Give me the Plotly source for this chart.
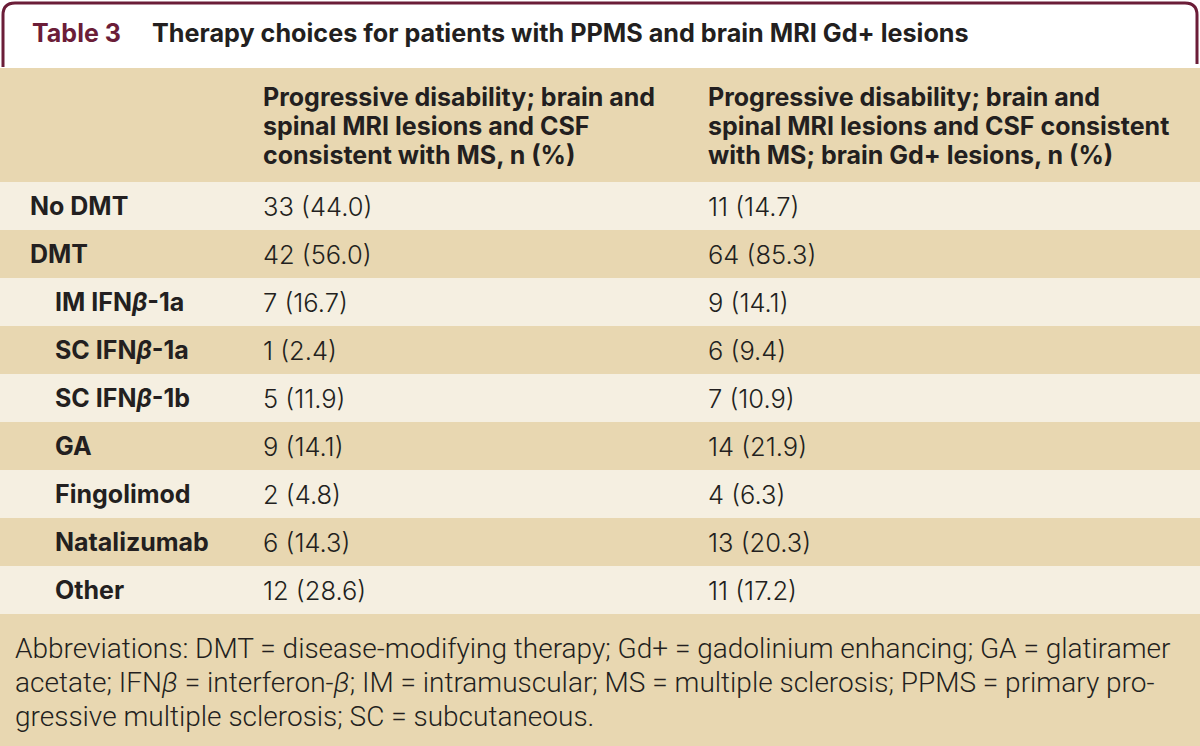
import plotly.graph_objects as go

# ---- data ----
table_no = "Table 3"
title = "Therapy choices for patients with PPMS and brain MRI Gd+ lesions"
header1 = ["Progressive disability; brain and",
           "spinal MRI lesions and CSF",
           "consistent with MS, n (%)"]
header2 = ["Progressive disability; brain and",
           "spinal MRI lesions and CSF consistent",
           "with MS; brain Gd+ lesions, n (%)"]
labels = ["No DMT", "DMT", "IM IFN<i>β</i>-1a", "SC IFN<i>β</i>-1a", "SC IFN<i>β</i>-1b",
          "GA", "Fingolimod", "Natalizumab", "Other"]
indent = [0, 0, 1, 1, 1, 1, 1, 1, 1]
col1 = ["33 (44.0)", "42 (56.0)", "7 (16.7)", "1 (2.4)", "5 (11.9)",
        "9 (14.1)", "2 (4.8)", "6 (14.3)", "12 (28.6)"]
col2 = ["11 (14.7)", "64 (85.3)", "9 (14.1)", "6 (9.4)", "7 (10.9)",
        "14 (21.9)", "4 (6.3)", "13 (20.3)", "11 (17.2)"]
footnote = ["Abbreviations: DMT = disease-modifying therapy; Gd+ = gadolinium enhancing; GA = glatiramer",
            "acetate; IFN<i>β</i> = interferon-<i>β</i>; IM = intramuscular; MS = multiple sclerosis; PPMS = primary pro-",
            "gressive multiple sclerosis; SC = subcutaneous."]

# ---- styles ----
W, H = 1200, 746
TAN = "#e8d7b1"
LIGHT = "#f5efe1"
MAROON = "#6b1d38"
TXT = "#231f20"
BOLD = dict(family="Inter", size=25, color=TXT, weight="bold")
REG = dict(family="Inter", size=25.5, color=TXT, weight=300)
FOOT = dict(family="Roboto", size=28, color=TXT, weight=300)

head_top, head_bot = 68, 182
row_h = 48
x_lab, x_ind, x_c1, x_c2 = 28, 53, 261, 706

shapes = []
ann = []

# title frame
shapes.append(dict(type="rect", x0=0, x1=W, y0=0, y1=head_top, fillcolor="white",
                   line_width=0, layer="below"))
shapes.append(dict(type="path",
                   path="M 3,67 L 3,15 Q 3,3 15,3 L 1185,3 Q 1197,3 1197,15 L 1197,64",
                   line=dict(color=MAROON, width=3)))
ann.append(dict(x=30, y=33, text=table_no, xanchor="left", yanchor="middle",
                font=dict(family="Inter", size=25, color=MAROON, weight="bold")))
ann.append(dict(x=150, y=33, text=title, xanchor="left", yanchor="middle",
                font=dict(family="Inter", size=25.2, color=TXT, weight="bold")))

# header band
shapes.append(dict(type="rect", x0=0, x1=W, y0=head_top, y1=head_bot, fillcolor=TAN,
                   line_width=0, layer="below"))
for k, (a, b) in enumerate(zip(header1, header2)):
    yy = 97 + 29 * k
    ann.append(dict(x=x_c1, y=yy, text=a, xanchor="left", yanchor="middle", font=BOLD))
    ann.append(dict(x=x_c2, y=yy, text=b, xanchor="left", yanchor="middle", font=BOLD))

# body rows
for i, (lab, ind, v1, v2) in enumerate(zip(labels, indent, col1, col2)):
    y0 = head_bot + i * row_h
    shapes.append(dict(type="rect", x0=0, x1=W, y0=y0, y1=y0 + row_h,
                       fillcolor=LIGHT if i % 2 == 0 else TAN, line_width=0, layer="below"))
    yc = y0 + row_h / 2
    ann.append(dict(x=x_ind if ind else x_lab, y=yc, text=lab, xanchor="left",
                    yanchor="middle", font=BOLD))
    ann.append(dict(x=x_c1, y=yc, text=v1, xanchor="left", yanchor="middle", font=REG))
    ann.append(dict(x=x_c2, y=yc, text=v2, xanchor="left", yanchor="middle", font=REG))

# footer
foot_top = head_bot + len(labels) * row_h
shapes.append(dict(type="rect", x0=0, x1=W, y0=foot_top, y1=H, fillcolor=TAN,
                   line_width=0, layer="below"))
for k, line in enumerate(footnote):
    ann.append(dict(x=13, y=648 + 34 * k, text=line, xanchor="left", yanchor="middle",
                    font=FOOT))

for a in ann:
    a.update(xref="x", yref="y", showarrow=False)

fig = go.Figure()
fig.update_layout(
    width=W, height=H, margin=dict(l=0, r=0, t=0, b=0),
    paper_bgcolor="white", plot_bgcolor="white",
    xaxis=dict(range=[0, W], visible=False, fixedrange=True),
    yaxis=dict(range=[H, 0], visible=False, fixedrange=True),
    shapes=shapes, annotations=ann, showlegend=False,
)
fig.write_html("out.html", config={"displayModeBar": False},
               post_script="document.body.style.margin='0';document.body.style.overflow='hidden';")
